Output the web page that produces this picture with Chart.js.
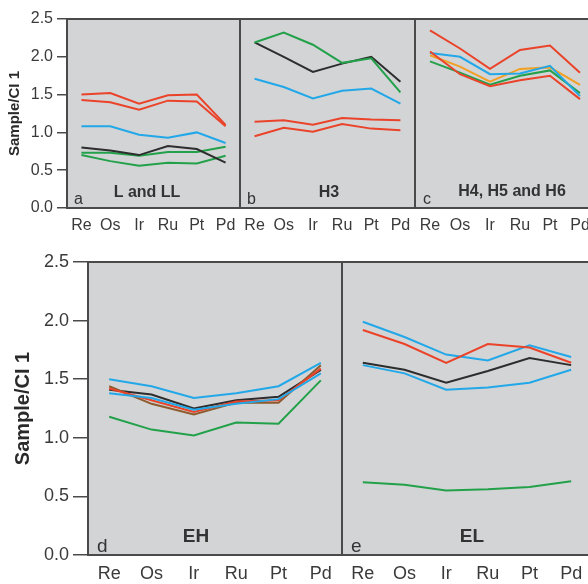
<!DOCTYPE html>
<html>
<head>
<meta charset="utf-8">
<script src="https://cdn.jsdelivr.net/npm/chart.js@4.4.0/dist/chart.umd.min.js"></script>
<style>
  html, body { margin: 0; padding: 0; background: #fff; overflow: hidden; }
  #wrap { position: relative; width: 588px; height: 584px; overflow: hidden; }
  #wrap canvas { position: absolute; }
</style>
</head>
<body>
<div id="wrap">
  <canvas id="pa"></canvas>
  <canvas id="pb"></canvas>
  <canvas id="pc"></canvas>
  <canvas id="pd"></canvas>
  <canvas id="pe"></canvas>
</div>
<script>
// Elementos (eixo x) e limites do eixo y
const elementos = ['Re', 'Os', 'Ir', 'Ru', 'Pt', 'Pd'];
const yMin = 0;
const yMax = 2.5;
const yPasso = 0.5;

// Painel a - L and LL
const aVermelho1 = [1.50, 1.52, 1.38, 1.49, 1.50, 1.10];
const aVermelho2 = [1.43, 1.40, 1.30, 1.42, 1.41, 1.08];
const aAzul      = [1.08, 1.08, 0.97, 0.93, 1.00, 0.86];
const aPreto     = [0.80, 0.76, 0.70, 0.82, 0.78, 0.60];
const aVerde1    = [0.73, 0.73, 0.69, 0.74, 0.74, 0.81];
const aVerde2    = [0.70, 0.62, 0.56, 0.60, 0.59, 0.69];

// Painel b - H3
const bVerde     = [2.19, 2.32, 2.16, 1.92, 1.98, 1.53];
const bPreto     = [2.19, 2.00, 1.80, 1.91, 2.00, 1.67];
const bAzul      = [1.71, 1.60, 1.45, 1.55, 1.58, 1.38];
const bVermelho1 = [1.14, 1.16, 1.10, 1.19, 1.17, 1.16];
const bVermelho2 = [0.95, 1.06, 1.01, 1.11, 1.05, 1.03];

// Painel c - H4, H5 and H6
const cVermelho1 = [2.35, 2.11, 1.84, 2.09, 2.15, 1.79];
const cVermelho2 = [2.07, 1.77, 1.61, 1.69, 1.75, 1.44];
const cAzul      = [2.05, 2.00, 1.77, 1.78, 1.88, 1.48];
const cLaranja   = [2.02, 1.87, 1.67, 1.84, 1.86, 1.63];
const cVerde     = [1.94, 1.79, 1.63, 1.75, 1.82, 1.52];

// Painel d - EH
const dAzul1     = [1.50, 1.44, 1.34, 1.38, 1.44, 1.64];
const dPreto     = [1.41, 1.37, 1.25, 1.32, 1.35, 1.58];
const dMarrom    = [1.44, 1.29, 1.20, 1.30, 1.30, 1.62];
const dVermelho  = [1.42, 1.32, 1.22, 1.31, 1.32, 1.59];
const dAzul2     = [1.38, 1.34, 1.24, 1.29, 1.33, 1.55];
const dVerde     = [1.18, 1.07, 1.02, 1.13, 1.12, 1.49];

// Painel e - EL
const eAzul1     = [1.99, 1.86, 1.71, 1.66, 1.79, 1.69];
const eVermelho  = [1.92, 1.80, 1.64, 1.80, 1.77, 1.64];
const ePreto     = [1.64, 1.58, 1.47, 1.57, 1.68, 1.62];
const eAzul2     = [1.62, 1.55, 1.41, 1.43, 1.47, 1.58];
const eVerde     = [0.62, 0.60, 0.55, 0.56, 0.58, 0.63];

const cores = {
  vermelho: '#ea4329',
  azul: '#22a8e8',
  verde: '#23a14a',
  preto: '#2d2d2d',
  laranja: '#f2a024',
  marrom: '#8c5b2e',
};

const FONTE = '"Liberation Sans", Arial, Helvetica, sans-serif';

// Fundo cinza, moldura e rótulos do painel
const painelPlugin = {
  id: 'painel',
  beforeDraw(chart, args, opts) {
    const { ctx, chartArea: c } = chart;
    ctx.save();
    ctx.fillStyle = '#d3d4d6';
    ctx.fillRect(c.left, c.top, c.right - c.left, c.bottom - c.top);
    ctx.restore();
  },
  afterDraw(chart, args, opts) {
    const { ctx, chartArea: c } = chart;
    ctx.save();
    ctx.strokeStyle = '#4a4a4a';
    ctx.lineWidth = 2;
    ctx.strokeRect(c.left, c.top, c.right - c.left, c.bottom - c.top);
    ctx.fillStyle = '#333';
    ctx.textBaseline = 'alphabetic';
    ctx.textAlign = 'left';
    ctx.font = opts.tamLetra + 'px ' + FONTE;
    ctx.fillText(opts.letra, c.left + opts.letraX, c.bottom - opts.letraY);
    ctx.textAlign = 'center';
    ctx.font = 'bold ' + opts.tamNome + 'px ' + FONTE;
    ctx.fillText(opts.nome, c.left + opts.nomeX, c.bottom - opts.nomeY);
    ctx.restore();
  }
};

function serie(valores, cor) {
  return {
    data: valores,
    borderColor: cor,
    backgroundColor: cor,
    borderWidth: 2,
    pointRadius: 0,
    tension: 0,
    fill: false,
  };
}

// Cria um painel: cfg traz posição, tamanho e textos
function criarPainel(cfg, series) {
  const canvas = document.getElementById(cfg.id);
  canvas.width = cfg.largura;
  canvas.height = cfg.altura;
  canvas.style.left = cfg.x + 'px';
  canvas.style.top = cfg.y + 'px';
  canvas.style.width = cfg.largura + 'px';
  canvas.style.height = cfg.altura + 'px';

  return new Chart(canvas.getContext('2d'), {
    type: 'line',
    data: { labels: elementos, datasets: series },
    options: {
      responsive: false,
      animation: false,
      devicePixelRatio: 1,
      layout: { padding: { top: cfg.topo, left: 0, right: 0, bottom: 0 } },
      plugins: {
        legend: { display: false },
        tooltip: { enabled: false },
        painel: cfg.textos,
      },
      scales: {
        x: {
          type: 'category',
          offset: true,
          grid: { display: false, drawTicks: false },
          border: { display: false },
          ticks: {
            color: '#3a3a3a',
            font: { family: FONTE, size: cfg.tamTick },
            padding: cfg.padX,
            autoSkip: false,
            maxRotation: 0,
          },
          afterFit: (s) => {
            s.height = cfg.alturaX;
            s.paddingLeft = 0;
            s.paddingRight = 0;
          },
        },
        y: {
          display: cfg.mostraY,
          min: yMin,
          max: yMax,
          ticks: {
            stepSize: yPasso,
            color: '#3a3a3a',
            font: { family: FONTE, size: cfg.tamTick },
            padding: cfg.padY,
            callback: (v) => Number(v).toFixed(1),
          },
          grid: {
            drawOnChartArea: false,
            drawTicks: true,
            tickLength: cfg.tickY,
            color: '#4a4a4a',
            lineWidth: 1.5,
          },
          border: { display: false },
          title: {
            display: true,
            text: 'Sample/CI 1',
            color: '#2a2a2a',
            font: { family: FONTE, size: cfg.tamTitulo, weight: 'bold' },
            padding: { top: cfg.padTitulo, bottom: 0 },
          },
          afterFit: (s) => {
            s.width = cfg.larguraY;
            s.paddingTop = 0;
            s.paddingBottom = 0;
          },
        },
      },
    },
    plugins: [painelPlugin],
  });
}

const topoBase = { y: 0, altura: 240, topo: 19, alturaX: 32, tamTick: 16, padX: 8, padY: 4, tickY: 10, tamTitulo: 15, padTitulo: 6 };
const baseBase = { y: 240, altura: 344, topo: 22, alturaX: 29, tamTick: 18, padX: 8, padY: 4, tickY: 15, tamTitulo: 20, padTitulo: 11 };

criarPainel({ ...topoBase, id: 'pa', x: 0, largura: 240, mostraY: true, larguraY: 67,
  textos: { letra: 'a', letraX: 7, letraY: 4, tamLetra: 16, nome: 'L and LL', nomeX: 80, nomeY: 11, tamNome: 16 } },
  [serie(aVermelho1, cores.vermelho), serie(aVermelho2, cores.vermelho), serie(aAzul, cores.azul),
   serie(aPreto, cores.preto), serie(aVerde1, cores.verde), serie(aVerde2, cores.verde)]);

criarPainel({ ...topoBase, id: 'pb', x: 240, largura: 175, mostraY: false, larguraY: 0,
  textos: { letra: 'b', letraX: 7, letraY: 4, tamLetra: 16, nome: 'H3', nomeX: 89, nomeY: 11, tamNome: 16 } },
  [serie(bVerde, cores.verde), serie(bPreto, cores.preto), serie(bAzul, cores.azul),
   serie(bVermelho1, cores.vermelho), serie(bVermelho2, cores.vermelho)]);

criarPainel({ ...topoBase, id: 'pc', x: 415, largura: 180, mostraY: false, larguraY: 0,
  textos: { letra: 'c', letraX: 8, letraY: 4, tamLetra: 16, nome: 'H4, H5 and H6', nomeX: 97, nomeY: 12, tamNome: 16 } },
  [serie(cVermelho1, cores.vermelho), serie(cVermelho2, cores.vermelho), serie(cAzul, cores.azul),
   serie(cLaranja, cores.laranja), serie(cVerde, cores.verde)]);

criarPainel({ ...baseBase, id: 'pd', x: 0, largura: 342, mostraY: true, larguraY: 88,
  textos: { letra: 'd', letraX: 9, letraY: 3, tamLetra: 19, nome: 'EH', nomeX: 108, nomeY: 13, tamNome: 19 } },
  [serie(dVerde, cores.verde), serie(dAzul2, cores.azul), serie(dVermelho, cores.vermelho),
   serie(dMarrom, cores.marrom), serie(dPreto, cores.preto), serie(dAzul1, cores.azul)]);

criarPainel({ ...baseBase, id: 'pe', x: 342, largura: 250, mostraY: false, larguraY: 0,
  textos: { letra: 'e', letraX: 9, letraY: 3, tamLetra: 19, nome: 'EL', nomeX: 130, nomeY: 13, tamNome: 19 } },
  [serie(eVerde, cores.verde), serie(eAzul2, cores.azul), serie(ePreto, cores.preto),
   serie(eVermelho, cores.vermelho), serie(eAzul1, cores.azul)]);
</script>
</body>
</html>
